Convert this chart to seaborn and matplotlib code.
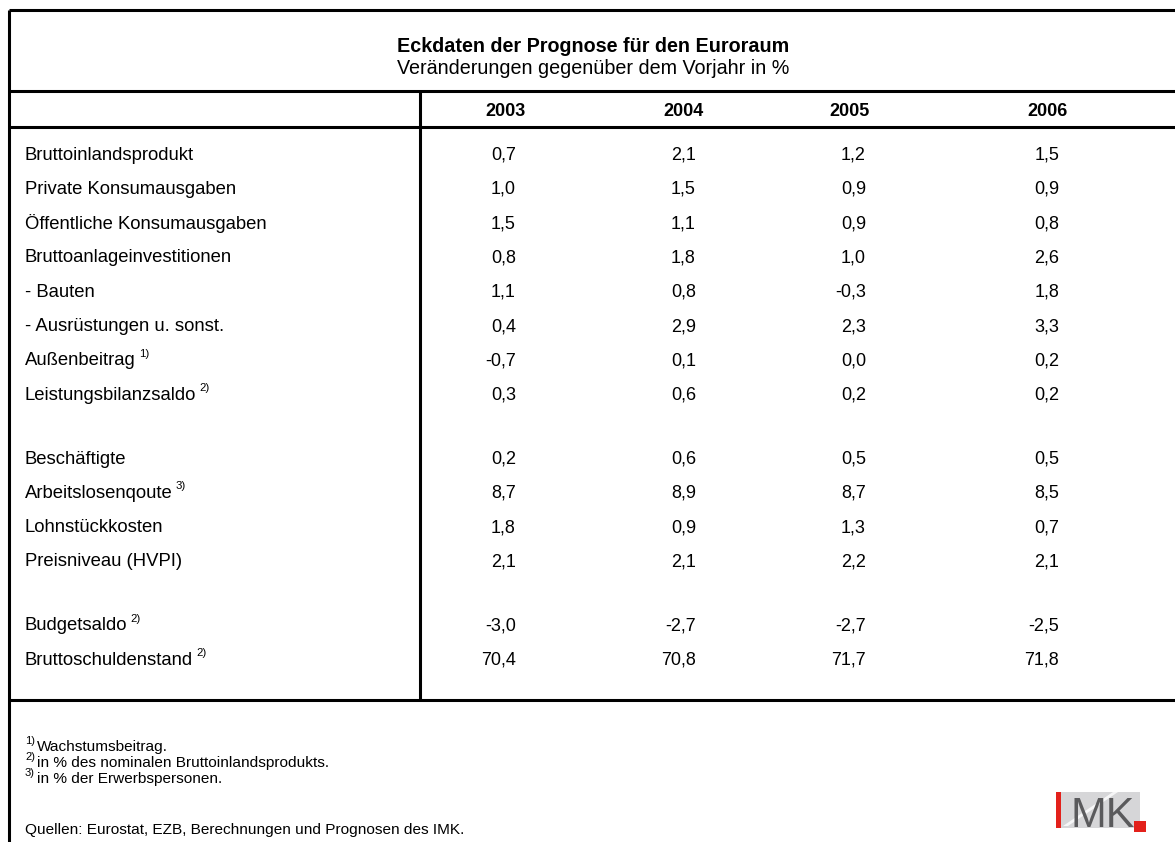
"""
Eckdaten der Prognose für den Euroraum - table figure rebuilt with matplotlib/seaborn.
"""
import matplotlib
matplotlib.use("Agg")
import matplotlib.pyplot as plt
from matplotlib.patches import Rectangle, Polygon
import seaborn as sns

sns.set_style("white")
plt.rcParams["font.family"] = ["Liberation Sans", "DejaVu Sans"]
plt.rcParams["text.color"] = "black"

TITLE = "Eckdaten der Prognose für den Euroraum"
SUBTITLE = "Veränderungen gegenüber dem Vorjahr in %"
YEARS = ["2003", "2004", "2005", "2006"]
ROWS = ["Bruttoinlandsprodukt", "Private Konsumausgaben", "Öffentliche Konsumausgaben",
        "Bruttoanlageinvestitionen", "- Bauten", "- Ausrüstungen u. sonst.",
        "Außenbeitrag", "Leistungsbilanzsaldo",
        "Beschäftigte", "Arbeitslosenqoute", "Lohnstückkosten", "Preisniveau (HVPI)",
        "Budgetsaldo", "Bruttoschuldenstand"]
NOTES = ["", "", "", "", "", "", "1)", "2)", "", "3)", "", "", "2)", "2)"]
GROUP = [0] * 8 + [1] * 4 + [2] * 2
V2003 = [0.7, 1.0, 1.5, 0.8, 1.1, 0.4, -0.7, 0.3, 0.2, 8.7, 1.8, 2.1, -3.0, 70.4]
V2004 = [2.1, 1.5, 1.1, 1.8, 0.8, 2.9, 0.1, 0.6, 0.6, 8.9, 0.9, 2.1, -2.7, 70.8]
V2005 = [1.2, 0.9, 0.9, 1.0, -0.3, 2.3, 0.0, 0.2, 0.5, 8.7, 1.3, 2.2, -2.7, 71.7]
V2006 = [1.5, 0.9, 0.8, 2.6, 1.8, 3.3, 0.2, 0.2, 0.5, 8.5, 0.7, 2.1, -2.5, 71.8]
FOOT_MARKS = ["1)", "2)", "3)"]
FOOT_TEXTS = ["Wachstumsbeitrag.", "in % des nominalen Bruttoinlandsprodukts.",
              "in % der Erwerbspersonen."]
SOURCE = "Quellen: Eurostat, EZB, Berechnungen und Prognosen des IMK."

# layout in pixel units (axes spans the whole figure)
W, H = 1175, 842
ROW0, ROW_STEP, GROUP_GAP = 155, 34.3, 29.6
COL_RIGHT = [516, 696, 866, 1059]
COL_HEAD = [505, 683, 850, 1047]
LW = 2.2
FS_LAB, FS_VAL, FS_NOTE = 13.3, 13, 11.1

fig = plt.figure(figsize=(W / 100, H / 100), dpi=100)
ax = fig.add_axes([0, 0, 1, 1])
ax.set_xlim(0, W)
ax.set_ylim(H, 0)
ax.axis("off")

# frame and rules
ax.plot([9, 9], [10, H], color="black", lw=LW, solid_capstyle="butt")
for y in (10, 91, 127, 700):
    ax.plot([9, W], [y, y], color="black", lw=LW, solid_capstyle="butt")
ax.plot([420, 420], [91, 700], color="black", lw=LW, solid_capstyle="butt")

# title
ax.text(593, 46, TITLE, ha="center", va="center", fontsize=14.2, fontweight="bold")
ax.text(593, 69, SUBTITLE, ha="center", va="center", fontsize=14.2)

for xh, yr in zip(COL_HEAD, YEARS):
    ax.text(xh, 112, yr, ha="center", va="center", fontsize=FS_VAL, fontweight="bold")

fig.canvas.draw()
renderer = fig.canvas.get_renderer()

fmt = lambda v: f"{v:.1f}".replace(".", ",")
for i, (lab, note, g) in enumerate(zip(ROWS, NOTES, GROUP)):
    y = ROW0 + ROW_STEP * i + GROUP_GAP * g
    t = ax.text(25, y, lab, ha="left", va="center", fontsize=FS_LAB)
    if note:
        x1 = t.get_window_extent(renderer).x1
        ax.text(x1 + 3, y - 7, note, ha="left", va="center", fontsize=8.2)
    for xr, vals in zip(COL_RIGHT, (V2003, V2004, V2005, V2006)):
        ax.text(xr, y, fmt(vals[i]), ha="right", va="center", fontsize=FS_VAL)

# footnotes
for k, (m, txt) in enumerate(zip(FOOT_MARKS, FOOT_TEXTS)):
    y = 747 + 16 * k
    ax.text(25, y - 6, m, ha="left", va="center", fontsize=8)
    ax.text(37, y, txt, ha="left", va="center", fontsize=FS_NOTE)
ax.text(25, 830, SOURCE, ha="left", va="center", fontsize=FS_NOTE)

# IMK logo
ax.add_patch(Rectangle((1061, 792), 79, 36, facecolor="#d6d6d8", edgecolor="none"))
ax.add_patch(Polygon([(1063, 826), (1068, 826), (1118, 792), (1113, 792)],
                     facecolor="white", edgecolor="none", alpha=0.8))
ax.add_patch(Rectangle((1056, 792), 5, 36, facecolor="#e3211b", edgecolor="none"))
ax.text(1070, 827, "MK", ha="left", va="baseline", fontsize=31, color="#5a5a5c",
        family=["Liberation Sans Narrow", "Liberation Sans", "DejaVu Sans"])
ax.add_patch(Rectangle((1134, 821), 12, 11, facecolor="#e3211b", edgecolor="none"))

fig.savefig("out.png", dpi=100)
plt.close(fig)
